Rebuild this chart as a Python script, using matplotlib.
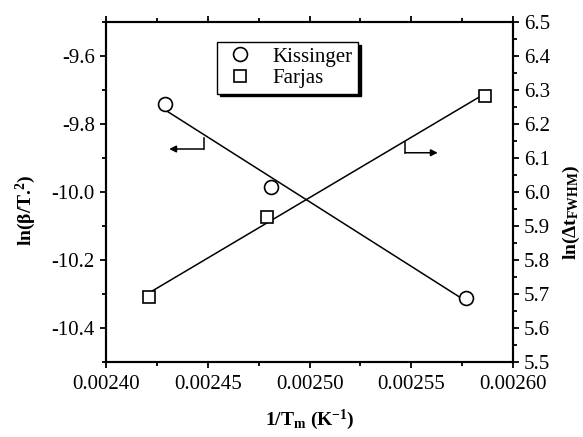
import numpy as np
import matplotlib
matplotlib.use("Agg")
import matplotlib.pyplot as plt

# data
inv_tm_k = [0.002429, 0.002481, 0.002577]
kissinger = [-9.741, -9.985, -10.312]
inv_tm_f = [0.002421, 0.002479, 0.002586]
farjas = [5.691, 5.926, 6.282]

x_ticks = [0.00240, 0.00245, 0.00250, 0.00255, 0.00260]
left_ticks = [-10.4, -10.2, -10.0, -9.8, -9.6]
right_ticks = [5.5, 5.6, 5.7, 5.8, 5.9, 6.0, 6.1, 6.2, 6.3, 6.4, 6.5]

plt.rcParams['font.family'] = ['Liberation Serif', 'DejaVu Serif']
plt.rcParams['mathtext.default'] = 'regular'
plt.rcParams['font.size'] = 15

fig = plt.figure(figsize=(5.83, 4.37), dpi=100)
ax = fig.add_axes([0.182, 0.172, 0.698, 0.778])
ax2 = ax.twinx()

# linear fits
pk = np.polyfit(inv_tm_k, kissinger, 1)
pf = np.polyfit(inv_tm_f, farjas, 1)
xk = np.array([inv_tm_k[0], inv_tm_k[-1]])
xf = np.array([inv_tm_f[0], inv_tm_f[-1]])
ax.plot(xk, np.polyval(pk, xk), color='black', lw=1.1)
ax2.plot(xf, np.polyval(pf, xf), color='black', lw=1.1)

h1, = ax.plot(inv_tm_k, kissinger, 'o', ms=10, mfc='white', mec='black', mew=1.2, label='Kissinger')
h2, = ax2.plot(inv_tm_f, farjas, 's', ms=8.5, mfc='white', mec='black', mew=1.2, label='Farjas')

ax.set_xlim(0.00240, 0.00260)
ax.set_ylim(-10.5, -9.5)
ax2.set_ylim(5.5, 6.5)

ax.set_xticks(x_ticks)
ax.set_xticklabels(['%.5f' % v for v in x_ticks])
ax.set_xticks(np.arange(0.002425, 0.00260, 0.00005), minor=True)
ax.set_yticks(left_ticks)
ax.set_yticklabels(['%.1f' % v for v in left_ticks])
ax.set_yticks(np.arange(-10.5, -9.45, 0.1), minor=True)
ax2.set_yticks(right_ticks)
ax2.set_yticklabels(['%.1f' % v for v in right_ticks])
ax2.set_yticks(np.arange(5.55, 6.5, 0.1), minor=True)

ax.tick_params(which='both', direction='out', top=True, width=1.3, labelsize=15)
ax.tick_params(which='major', length=4.5)
ax.tick_params(which='minor', length=3)
ax.tick_params(axis='x', pad=5)
ax2.tick_params(which='both', direction='out', width=1.3, labelsize=15)
ax2.tick_params(which='major', length=4.5)
ax2.tick_params(which='minor', length=3)
for a in (ax, ax2):
    for s in a.spines.values():
        s.set_linewidth(1.5)

ax.set_xlabel('1/T$_m$ (K$^{-1}$)', fontweight='bold', fontsize=14, labelpad=10)
ax.set_ylabel('ln(β/T.$^{2}$)', fontweight='bold', fontsize=14)
ax.yaxis.set_label_coords(-0.168, 0.447)
ax2.set_ylabel('ln(Δt$_{FWHM}$)', fontweight='bold', fontsize=14)
ax2.yaxis.set_label_coords(1.118, 0.44)

# direction arrows
ax.plot([0.002448, 0.002448], [-9.841, -9.874], color='black', lw=1.1)
ax.annotate('', xy=(0.002431, -9.874), xytext=(0.002448, -9.874),
            arrowprops=dict(arrowstyle='-|>', color='black', lw=1.1, mutation_scale=10, shrinkA=0, shrinkB=0))
ax2.plot([0.002547, 0.002547], [6.147, 6.115], color='black', lw=1.1)
ax2.annotate('', xy=(0.002563, 6.115), xytext=(0.002547, 6.115),
             arrowprops=dict(arrowstyle='-|>', color='black', lw=1.1, mutation_scale=10, shrinkA=0, shrinkB=0))

leg = ax.legend(handles=[h1, h2], loc='upper left', bbox_to_anchor=(0.273, 0.941),
                borderaxespad=0, frameon=True, fancybox=False,
                shadow={'color': 'black', 'alpha': 1}, edgecolor='black',
                fontsize=15, handletextpad=0.7, borderpad=0.25, labelspacing=0.1,
                handlelength=1.7)
leg.get_frame().set_linewidth(1.0)
leg.get_frame().set_alpha(1)

fig.savefig('out.png', dpi=100)
